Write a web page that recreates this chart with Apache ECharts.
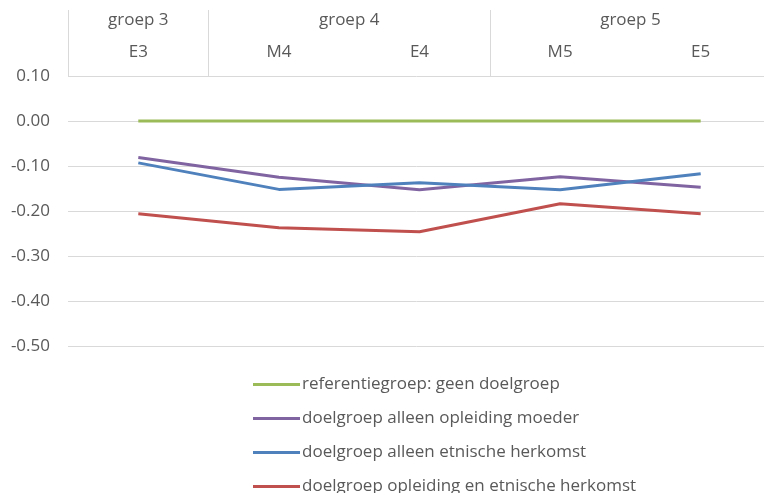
<!DOCTYPE html>
<html>
<head>
<meta charset="utf-8">
<script src="https://cdn.jsdelivr.net/npm/echarts@6/dist/echarts.min.js"></script>
<style>
  html, body { margin: 0; padding: 0; background: #fff; }
  #chart { width: 764px; height: 493px; }
</style>
</head>
<body>
<div id="chart"></div>
<script>
// meetmomenten en groepen
const categories = ['E3', 'M4', 'E4', 'M5', 'E5'];
const groupLabels = ['groep 3', 'groep 4', 'groep 5'];
const groupSpans = [1, 2, 2];

const seriesNames = [
  'referentiegroep: geen doelgroep',
  'doelgroep alleen opleiding moeder',
  'doelgroep alleen etnische herkomst',
  'doelgroep opleiding en etnische herkomst'
];
const referentie = [0, 0, 0, 0, 0];
const alleenOpleiding = [-0.081, -0.125, -0.153, -0.124, -0.147];
const alleenEtnisch = [-0.093, -0.152, -0.137, -0.153, -0.117];
const opleidingEtnisch = [-0.206, -0.237, -0.246, -0.184, -0.206];

const colors = ['#9BBB59', '#8064A2', '#4F81BD', '#C0504D'];
const textColor = '#595959';
const lineColor = '#d9d9d9';
const font = 'Open Sans';

// grenzen en middens van de groepen op de as
let groupBounds = [0];
let groupCenters = [];
let acc = 0;
groupSpans.forEach(s => {
  groupCenters.push(acc + s / 2);
  acc += s;
  groupBounds.push(acc);
});
groupBounds.pop();

const chart = echarts.init(document.getElementById('chart'));

const allData = [referentie, alleenOpleiding, alleenEtnisch, opleidingEtnisch];

chart.setOption({
  animation: false,
  grid: { left: 68, width: 703, top: 76, bottom: 147, outerBoundsMode: 'none', containLabel: false },
  legend: {
    orient: 'vertical',
    left: 253,
    top: 376,
    padding: 0,
    height: 200,
    itemGap: 17,
    itemWidth: 47,
    itemHeight: 3,
    icon: 'rect',
    textStyle: { color: textColor, fontSize: 17, fontFamily: font, padding: [0, 0, 0, -3] },
    data: seriesNames
  },
  xAxis: [
    {
      type: 'category',
      data: categories,
      position: 'top',
      axisLine: { show: false },
      axisTick: { show: false },
      splitLine: { show: false },
      axisLabel: { margin: 15, color: textColor, fontSize: 17, fontFamily: font }
    },
    {
      type: 'value',
      min: 0,
      max: categories.length,
      position: 'top',
      axisLine: { show: false },
      splitLine: { show: false },
      axisTick: {
        show: true,
        customValues: groupBounds,
        length: 66,
        lineStyle: { color: lineColor, width: 1 }
      },
      axisLabel: {
        customValues: groupCenters,
        margin: 47,
        color: textColor,
        fontSize: 17,
        fontFamily: font,
        formatter: v => groupLabels[groupCenters.indexOf(v)] || ''
      }
    }
  ],
  yAxis: {
    type: 'value',
    min: -0.5,
    max: 0.1,
    interval: 0.1,
    axisLine: { show: false },
    axisTick: { show: false },
    splitLine: { lineStyle: { color: lineColor, width: 1 } },
    axisLabel: {
      margin: 18,
      color: textColor,
      fontSize: 17,
      fontFamily: font,
      formatter: v => v.toFixed(2)
    }
  },
  series: seriesNames.map((name, i) => ({
    name: name,
    type: 'line',
    data: allData[i],
    symbol: 'none',
    color: colors[i],
    lineStyle: { color: colors[i], width: 3 }
  }))
});
</script>
</body>
</html>
